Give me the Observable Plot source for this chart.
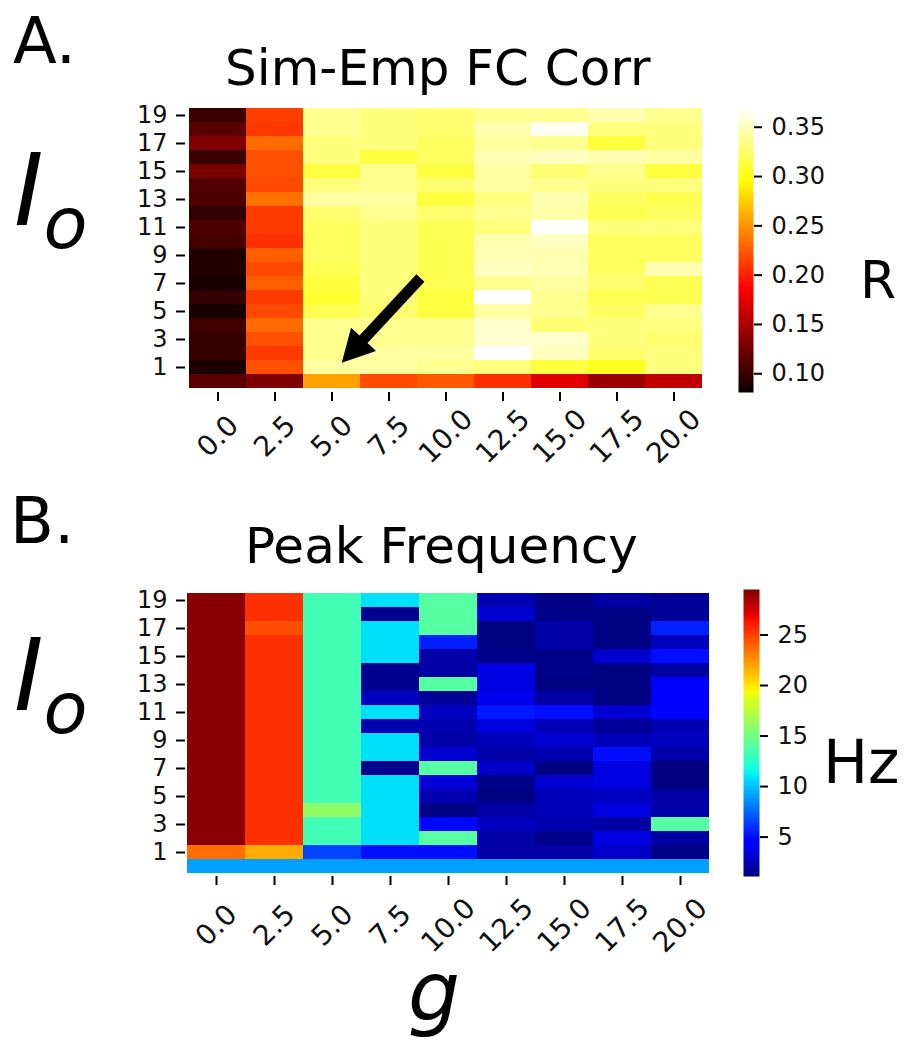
<!DOCTYPE html>
<html>
<head>
<meta charset="utf-8">
<script src="https://cdn.jsdelivr.net/npm/d3@7"></script>
<script src="https://cdn.jsdelivr.net/npm/@observablehq/plot@0.6"></script>
<style>
  html, body { margin: 0; padding: 0; background: #fff; }
  #root { position: relative; width: 908px; height: 1041px; overflow: hidden; background: #fff; }
  .layer { position: absolute; left: 0; }
  .layer svg { display: block; }
  #overlay { position: absolute; left: 0; top: 0; pointer-events: none; }
</style>
</head>
<body>
<div id="root"></div>
<script>
// ---------- categories / ticks ----------
const gLabels = ["0.0", "2.5", "5.0", "7.5", "10.0", "12.5", "15.0", "17.5", "20.0"];
const ioLevels = [0, 1, 2, 3, 4, 5, 6, 7, 8, 9, 10, 11, 12, 13, 14, 15, 16, 17, 18, 19];
const ioTicks = [1, 3, 5, 7, 9, 11, 13, 15, 17, 19];
const rTicks = [0.10, 0.15, 0.20, 0.25, 0.30, 0.35];
const hzTicks = [5, 10, 15, 20, 25];
const rDomain = [0.081, 0.369];
const hzDomain = [1.1, 29.5];

// ---------- A. Sim-Emp FC Corr (R), one array per g, Io = 0..19 ----------
const corr_g00_0 = [0.115, 0.088, 0.099, 0.099, 0.104, 0.087, 0.099, 0.087, 0.091, 0.091, 0.107, 0.111, 0.097, 0.109, 0.111, 0.129, 0.101, 0.131, 0.115, 0.101];
const corr_g02_5 = [0.131, 0.220, 0.211, 0.220, 0.232, 0.218, 0.211, 0.227, 0.218, 0.227, 0.207, 0.211, 0.211, 0.235, 0.218, 0.220, 0.220, 0.232, 0.210, 0.213];
const corr_g05_0 = [0.255, 0.342, 0.337, 0.337, 0.337, 0.319, 0.310, 0.314, 0.319, 0.323, 0.323, 0.323, 0.328, 0.342, 0.332, 0.314, 0.332, 0.332, 0.337, 0.337];
const corr_g07_5 = [0.218, 0.342, 0.342, 0.337, 0.337, 0.328, 0.332, 0.332, 0.332, 0.332, 0.332, 0.332, 0.337, 0.342, 0.337, 0.337, 0.314, 0.332, 0.332, 0.332];
const corr_g10_0 = [0.224, 0.337, 0.342, 0.337, 0.337, 0.314, 0.314, 0.319, 0.319, 0.319, 0.319, 0.319, 0.328, 0.314, 0.328, 0.314, 0.323, 0.323, 0.328, 0.328];
const corr_g12_5 = [0.207, 0.332, 0.369, 0.355, 0.355, 0.342, 0.369, 0.337, 0.351, 0.348, 0.346, 0.332, 0.337, 0.332, 0.342, 0.342, 0.346, 0.342, 0.346, 0.337];
const corr_g15_0 = [0.173, 0.314, 0.351, 0.355, 0.328, 0.337, 0.337, 0.342, 0.348, 0.346, 0.351, 0.368, 0.344, 0.346, 0.337, 0.328, 0.351, 0.337, 0.365, 0.337];
const corr_g17_5 = [0.143, 0.305, 0.328, 0.332, 0.332, 0.323, 0.319, 0.328, 0.323, 0.323, 0.323, 0.332, 0.319, 0.323, 0.332, 0.337, 0.346, 0.314, 0.332, 0.346];
const corr_g20_0 = [0.159, 0.332, 0.332, 0.328, 0.332, 0.337, 0.319, 0.319, 0.346, 0.323, 0.323, 0.332, 0.323, 0.319, 0.332, 0.314, 0.342, 0.332, 0.332, 0.337];

// ---------- B. Peak Frequency (Hz), one array per g, Io = 0..19 ----------
const freq_g00_0 = [9.1, 23.7, 29.3, 29.3, 29.3, 29.3, 29.3, 29.3, 29.3, 29.3, 29.3, 29.3, 29.3, 29.3, 29.3, 29.3, 29.3, 29.3, 29.3, 29.3];
const freq_g02_5 = [9.1, 21.8, 25.5, 25.5, 25.5, 25.5, 25.5, 25.5, 25.5, 25.5, 25.5, 25.5, 25.5, 25.5, 25.5, 25.5, 25.5, 24.6, 25.5, 25.5];
const freq_g05_0 = [9.1, 6.5, 13.3, 13.3, 16.0, 13.3, 13.3, 13.3, 13.3, 13.3, 13.3, 13.3, 13.3, 13.3, 13.3, 13.3, 13.3, 13.3, 13.3, 13.3];
const freq_g07_5 = [9.1, 5.1, 10.9, 10.9, 10.9, 10.9, 10.9, 1.5, 10.9, 10.9, 2.3, 10.9, 2.7, 1.5, 1.5, 10.9, 10.9, 10.9, 1.5, 10.9];
const freq_g10_0 = [9.1, 5.0, 14.0, 4.8, 1.2, 2.3, 3.3, 14.0, 3.1, 2.1, 2.3, 2.7, 1.7, 14.0, 2.0, 2.1, 5.5, 14.0, 14.0, 14.0];
const freq_g12_5 = [9.1, 2.0, 2.0, 2.7, 2.0, 1.2, 1.3, 2.9, 2.1, 2.5, 3.5, 5.3, 3.7, 3.5, 3.5, 1.3, 1.2, 1.2, 3.1, 2.3];
const freq_g15_0 = [9.1, 2.0, 1.3, 2.3, 2.5, 2.5, 3.1, 1.2, 2.3, 3.1, 2.5, 5.0, 2.0, 1.2, 1.3, 1.3, 2.1, 2.1, 1.3, 1.2];
const freq_g17_5 = [9.1, 2.9, 3.5, 2.0, 3.5, 2.7, 3.5, 3.5, 5.0, 2.5, 1.7, 3.1, 1.2, 1.2, 1.2, 3.1, 1.2, 1.2, 1.2, 2.0];
const freq_g20_0 = [9.1, 1.2, 2.0, 14.0, 2.1, 2.1, 1.1, 1.1, 2.1, 2.7, 2.3, 4.7, 4.7, 4.7, 2.0, 5.0, 2.7, 5.6, 1.7, 1.7];

const corrCols = [corr_g00_0, corr_g02_5, corr_g05_0, corr_g07_5, corr_g10_0, corr_g12_5, corr_g15_0, corr_g17_5, corr_g20_0];
const freqCols = [freq_g00_0, freq_g02_5, freq_g05_0, freq_g07_5, freq_g10_0, freq_g12_5, freq_g15_0, freq_g17_5, freq_g20_0];

function toTable(cols) {
  const out = [];
  cols.forEach((col, i) => col.forEach((v, j) => out.push({g: gLabels[i], io: ioLevels[j], v})));
  return out;
}
const corrTable = toTable(corrCols);
const freqTable = toTable(freqCols);

// ---------- matplotlib-like colormaps ----------
function pw(t, stops) {
  if (t <= stops[0][0]) return stops[0][1];
  for (let i = 1; i < stops.length; i++) {
    if (t <= stops[i][0]) {
      const [t0, v0] = stops[i - 1], [t1, v1] = stops[i];
      return v0 + (v1 - v0) * (t - t0) / (t1 - t0);
    }
  }
  return stops[stops.length - 1][1];
}
function rgbStr(r, g, b) {
  return `rgb(${Math.round(r * 255)},${Math.round(g * 255)},${Math.round(b * 255)})`;
}
function hot(t) {
  return rgbStr(
    pw(t, [[0, 0.0416], [0.365079, 1], [1, 1]]),
    pw(t, [[0, 0], [0.365079, 0], [0.746032, 1], [1, 1]]),
    pw(t, [[0, 0], [0.746032, 0], [1, 1]])
  );
}
function jet(t) {
  return rgbStr(
    pw(t, [[0, 0], [0.35, 0], [0.66, 1], [0.89, 1], [1, 0.5]]),
    pw(t, [[0, 0], [0.125, 0], [0.375, 1], [0.64, 1], [0.91, 0], [1, 0]]),
    pw(t, [[0, 0.5], [0.11, 1], [0.34, 1], [0.65, 0], [1, 0]])
  );
}

const FONT = "DejaVu Sans, sans-serif";
const root = document.getElementById("root");

function addLayer(node, top) {
  const d = document.createElement("div");
  d.className = "layer";
  d.style.top = top + "px";
  d.appendChild(node);
  root.appendChild(d);
  return node;
}

function heatmap(table, interp, domain, m, xPad, height) {
  return Plot.plot({
    width: 908, height,
    marginTop: m.top, marginBottom: m.bottom, marginLeft: m.left, marginRight: m.right,
    style: {fontFamily: FONT, fontSize: "24px", background: "transparent", color: "#000"},
    x: {domain: gLabels, padding: 0, axis: null},
    y: {domain: ioLevels.slice().reverse(), padding: 0, axis: null},
    color: {type: "linear", domain, interpolate: interp, clamp: true},
    marks: [
      Plot.cell(table, {x: "g", y: "io", fill: "v", inset: 0, shapeRendering: "crispEdges"}),
      Plot.axisX({tickRotate: -45, textAnchor: "middle", lineAnchor: "middle", tickSize: 9, tickPadding: xPad,
                  strokeWidth: 2, label: null, fontSize: 28, fill: "#111"}),
      Plot.axisY({ticks: ioTicks, tickSize: 9, tickPadding: 9, strokeWidth: 2, label: null, fontSize: 24, fill: "#111"})
    ]
  });
}

function colorbar(interp, domain, ticks, fmt, m, height) {
  return Plot.plot({
    width: 908, height,
    marginTop: m.top, marginBottom: m.bottom, marginLeft: m.left, marginRight: m.right,
    style: {fontFamily: FONT, fontSize: "24px", background: "transparent", color: "#000"},
    x: {domain: [0, 1], axis: null},
    y: {domain, axis: null},
    color: {type: "linear", domain, interpolate: interp, clamp: true},
    marks: [
      Plot.raster({fill: (x, y) => y, x1: 0, x2: 1, y1: domain[0], y2: domain[1], width: 1, height: 400, imageRendering: "auto"}),
      Plot.axisY({anchor: "right", ticks, tickFormat: fmt, tickSize: 8, tickPadding: 10, strokeWidth: 2, label: null, fontSize: 24, fill: "#111"})
    ]
  });
}

// ---------- Panel A ----------
const topH = 470;
const plotA = addLayer(heatmap(corrTable, hot, rDomain, {top: 103, bottom: 78, left: 185, right: 202}, 35, topH), 0);
addLayer(colorbar(hot, rDomain, rTicks, d3.format(".2f"), {top: 108, bottom: 78, left: 738, right: 155}, topH), 0);

// ---------- Panel B ----------
const botH = 1041 - topH;
addLayer(heatmap(freqTable, jet, hzDomain, {top: 119, bottom: 165, left: 185, right: 198}, 40, botH), topH);
addLayer(colorbar(jet, hzDomain, hzTicks, d3.format("d"), {top: 119, bottom: 165, left: 743, right: 149}, botH), topH);

// ---------- overlay: panel letters, titles, axis labels, arrow ----------
const NS = "http://www.w3.org/2000/svg";
const ov = document.createElementNS(NS, "svg");
ov.setAttribute("id", "overlay");
ov.setAttribute("width", 908);
ov.setAttribute("height", 1041);
root.appendChild(ov);

function txt(str, x, y, size, opts = {}) {
  const t = document.createElementNS(NS, "text");
  t.setAttribute("x", x); t.setAttribute("y", y);
  t.setAttribute("font-size", size);
  t.setAttribute("font-family", opts.family || FONT);
  if (opts.italic) t.setAttribute("font-style", "italic");
  t.setAttribute("text-anchor", opts.anchor || "start");
  t.setAttribute("fill", "#000");
  t.textContent = str;
  ov.appendChild(t);
  return t;
}
function ioLabel(x, y) {
  const t = txt("I", x, y, 100, {italic: true});
  const s = document.createElementNS(NS, "tspan");
  s.setAttribute("font-size", 72);
  s.setAttribute("dy", 23);
  s.textContent = "o";
  t.appendChild(s);
}

txt("A.", 13, 63, 64);
txt("Sim-Emp FC Corr", 225, 85, 50);
ioLabel(14, 225);
txt("R", 860, 298, 52);

txt("B.", 10, 543, 64);
txt("Peak Frequency", 245, 563, 50);
ioLabel(14, 710);
txt("Hz", 823, 783, 60);
txt("g", 434, 1020, 82, {italic: true, anchor: "middle"});

// arrow in panel A, anchored to the cells it points at, via Plot's own scales
const sx = plotA.scale("x"), sy = plotA.scale("y");
const bw = sx.bandwidth, bh = sy.bandwidth;
const tip = [sx.apply("5.0") + 0.68 * bw, sy.apply(1) + 0.2 * bh];
const tail = [sx.apply("10.0") + 0.06 * bw, sy.apply(7) + 0.15 * bh];
(function drawArrow() {
  const dx = tip[0] - tail[0], dy = tip[1] - tail[1];
  const L = Math.hypot(dx, dy), ux = dx / L, uy = dy / L, px = -uy, py = ux;
  const headL = 32, headW = 17, shaftW = 5.5;
  const bx = tip[0] - ux * headL, by = tip[1] - uy * headL;
  const pts = [
    [tail[0] + px * shaftW, tail[1] + py * shaftW],
    [bx + px * shaftW, by + py * shaftW],
    [bx + px * headW, by + py * headW],
    tip,
    [bx - px * headW, by - py * headW],
    [bx - px * shaftW, by - py * shaftW],
    [tail[0] - px * shaftW, tail[1] - py * shaftW]
  ];
  const p = document.createElementNS(NS, "polygon");
  p.setAttribute("points", pts.map(d => d.join(",")).join(" "));
  p.setAttribute("fill", "#000");
  ov.appendChild(p);
})();
</script>
</body>
</html>
